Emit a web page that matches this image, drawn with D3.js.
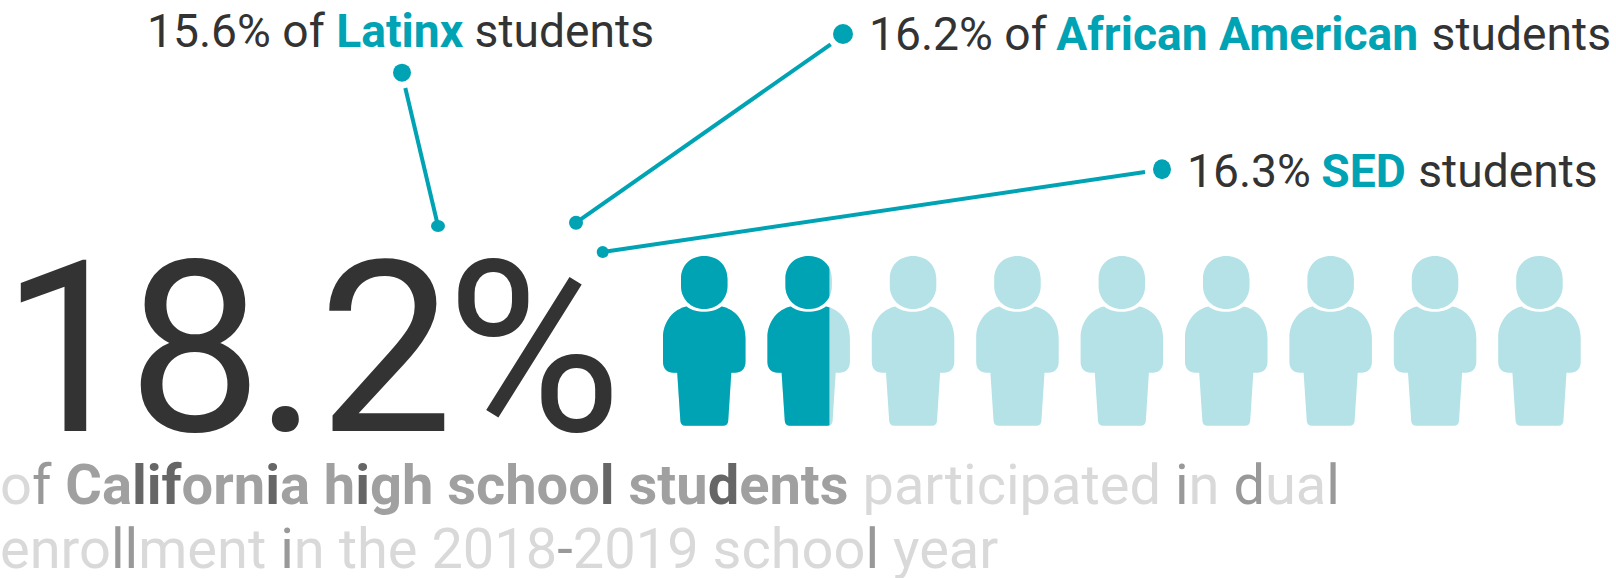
<!DOCTYPE html>
<html>
<head>
<meta charset="utf-8">
<script src="https://cdn.jsdelivr.net/npm/d3@7/dist/d3.min.js"></script>
<style>
html,body{margin:0;padding:0;background:#fff}
svg{display:block}
text{font-family:Roboto,sans-serif}
</style>
</head>
<body>
<svg id="chart" width="1616" height="578"></svg>
<script>
// Dual enrollment headline figure and the three subgroup callouts
const overallShare = 18.2;
const iconCount = 9;
const groupValues = [15.6, 16.2, 16.3];
const groupPrefix = ["15.6% of ", "16.2% of ", "16.3% "];
const groupNames = ["Latinx", "African American", "SED"];
const groupSuffix = [" students", " students", " students"];
const headlineLabel = "18.2%";
const captionLine1 = [["o", 0], ["f ", 3], ["Ca", 1], ["l", 2], ["i", 2], ["f", 2], ["orn", 1], ["i", 2], ["a h", 1], ["i", 2], ["gh schoo", 1], ["l", 2], [" stu", 1], ["d", 2], ["ents", 1], [" participated ", 0], ["i", 3], ["n ", 0], ["d", 3], ["ua", 0], ["l", 3]];
const captionLine2 = [["enro", 0], ["ll", 3], ["ment ", 0], ["i", 3], ["n the 2018", 0], ["-", 3], ["2019 schoo", 0], ["l", 3], [" year", 0]];

const TEAL = "#00a3b4", PALE = "#b4e2e7", INK = "#333333";
const captionFill = ["#d9d9d9", "#a0a0a0", "#666666", "#999999"];
const svg = d3.select("#chart");

// Icon row: each icon stands for ten percentage points
const iconX = d3.scaleLinear().domain([0, iconCount]).range([663, 663 + 104.4 * iconCount]);
const iconWidth = 82.5, fillInset = 8.8;

function personPath() {
  const p = d3.path();
  // head
  p.moveTo(18, 23);
  p.bezierCurveTo(18, 9, 28, 0, 41.2, 0);
  p.bezierCurveTo(54.5, 0, 64.5, 9, 64.5, 23);
  p.lineTo(64.5, 30);
  p.bezierCurveTo(64.5, 43, 54.5, 53, 41.2, 53);
  p.bezierCurveTo(28, 53, 18, 43, 18, 30);
  p.closePath();
  // torso
  p.moveTo(23.5, 50.5);
  p.bezierCurveTo(32, 57.5, 50, 57.5, 58.5, 50.5);
  p.bezierCurveTo(72, 53, 82.5, 65, 82.5, 82);
  p.lineTo(82.5, 106);
  p.bezierCurveTo(82.5, 113, 78, 116.7, 72, 116.7);
  p.lineTo(10.5, 116.7);
  p.bezierCurveTo(4.5, 116.7, 0, 113, 0, 106);
  p.lineTo(0, 82);
  p.bezierCurveTo(0, 65, 11, 53, 23.5, 50.5);
  p.closePath();
  // legs
  p.moveTo(14.2, 116.7);
  p.lineTo(68.3, 116.7);
  p.lineTo(65.2, 165);
  p.quadraticCurveTo(64.8, 169.7, 60, 169.7);
  p.lineTo(22.5, 169.7);
  p.quadraticCurveTo(17.8, 169.7, 17.4, 165);
  p.closePath();
  return p.toString();
}

const icons = d3.range(iconCount);
const defs = svg.append("defs");
const iconY = 256;

// Share of one icon's fillable span covered by the overall figure
const fillShare = i => Math.max(0, Math.min(1, (overallShare - i * 10) / 10));

icons.forEach(i => {
  const left = iconX(i);
  const span = d3.scaleLinear().domain([0, 1]).range([left + fillInset, left + iconWidth - fillInset]);
  const s = fillShare(i);
  const edge = s >= 1 ? left + iconWidth + 1 : s <= 0 ? left - 1 : span(s);
  defs.append("clipPath").attr("id", "fill-" + i)
    .append("rect").attr("x", left - 1).attr("y", iconY - 1)
    .attr("width", edge - left + 1).attr("height", 172);
});

const person = personPath();
const row = svg.append("g").attr("class", "icons");
row.selectAll("path.base").data(icons).join("path")
  .attr("class", "base").attr("d", person).attr("fill", PALE)
  .attr("transform", i => `translate(${iconX(i)},${iconY})`);
row.selectAll("g.filled").data(icons).join("g")
  .attr("class", "filled").attr("clip-path", i => `url(#fill-${i})`)
  .append("path").attr("d", person).attr("fill", TEAL)
  .attr("transform", i => `translate(${iconX(i)},${iconY})`);

// Headline number, tightly set
svg.append("text").attr("x", 0.7).attr("y", 431)
  .attr("dx", "0 -8.2 -7.2 0 -7.2")
  .attr("font-size", 240).attr("fill", INK).attr("font-weight", 400)
  .text(headlineLabel);

// Callouts: label, then a leader running down to the headline number
const labelX = [147, 869, 1187];
const labelBaseline = [47, 50, 187];
const nameShift = [0, -2, -1];
const leaderStart = [[402, 72.7], [843, 34], [1162, 169.3]];
const leaderStartR = [[9, 9], [10, 10], [9, 10]];
const leaderEnd = [[438, 226], [576, 222.7], [602.7, 252]];
const leaderEndR = [[7, 6], [7, 7], [6, 6]];
const leaderFrom = [[405.3, 88], [830.7, 44.3], [1145, 172]];

groupNames.forEach((name, i) => {
  const t = svg.append("text").attr("x", labelX[i]).attr("y", labelBaseline[i])
    .attr("font-size", 46.2).attr("fill", INK);
  t.append("tspan").text(groupPrefix[i]);
  t.append("tspan").attr("dx", nameShift[i]).attr("fill", TEAL).attr("font-weight", 700).text(name);
  t.append("tspan").attr("dx", -nameShift[i]).text(groupSuffix[i]);
  svg.append("line")
    .attr("x1", leaderFrom[i][0]).attr("y1", leaderFrom[i][1])
    .attr("x2", leaderEnd[i][0]).attr("y2", leaderEnd[i][1])
    .attr("stroke", TEAL).attr("stroke-width", 4);
  svg.append("ellipse").attr("cx", leaderStart[i][0]).attr("cy", leaderStart[i][1])
    .attr("rx", leaderStartR[i][0]).attr("ry", leaderStartR[i][1]).attr("fill", TEAL);
  svg.append("ellipse").attr("cx", leaderEnd[i][0]).attr("cy", leaderEnd[i][1])
    .attr("rx", leaderEndR[i][0]).attr("ry", leaderEndR[i][1]).attr("fill", TEAL);
});

// Two-line caption with per-letter tone
function caption(parts, y) {
  const t = svg.append("text").attr("x", 0).attr("y", y).attr("font-size", 56);
  parts.forEach(([str, tone]) => {
    t.append("tspan").attr("fill", captionFill[tone])
      .attr("font-weight", tone === 1 || tone === 2 ? 700 : 400)
      .text(str);
  });
}
caption(captionLine1, 504);
caption(captionLine2, 568);
</script>
</body>
</html>
